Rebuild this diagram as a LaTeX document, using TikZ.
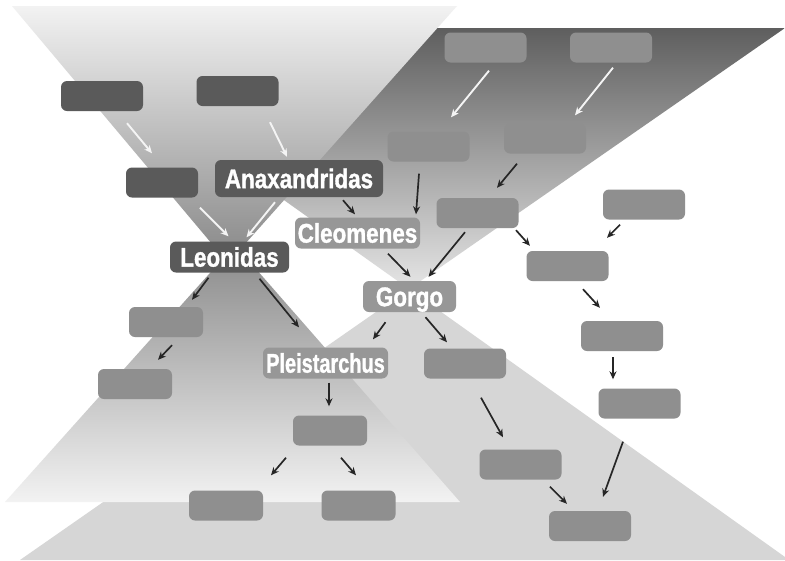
\documentclass[tikz,border=0pt]{standalone}
\usepackage{fontspec}
\newfontfamily\namefont[FakeStretch=0.83,BoldFeatures={FakeBold=1.2}]{Liberation Sans}
\usepackage{tikz}
\usetikzlibrary{arrows.meta}
\definecolor{boxdark}{HTML}{5A5A5A}
\definecolor{boxmid}{HTML}{8F8F8F}
\definecolor{namemid}{HTML}{979797}
\definecolor{arrwhite}{HTML}{F4F4F4}
\begin{document}
\begin{tikzpicture}[x=1pt,y=-1pt,
  blk/.style={rounded corners=6pt,minimum width=82pt,minimum height=30pt,inner sep=0pt},
  dbox/.style={blk,fill=boxdark},
  mbox/.style={blk,fill=boxmid},
  person/.style={rounded corners=6pt,inner sep=0pt,minimum height=31pt,text=white,
    font=\namefont\bfseries\fontsize{27}{29}\selectfont,text height=19.3pt,text depth=0pt},
  arr/.style={-{Stealth[length=8pt,width=7pt]},line width=1.7pt,draw=black!85},
  warr/.style={arr,draw=arrwhite,line width=1.9pt}]
\useasboundingbox (0,0) rectangle (785,560);
\fill[white] (0,0) rectangle (785,560);
% background: two crossing bowties
\shade[top color=black!63,bottom color=black!10] (42,28) -- (785,28) -- (409,289) -- cycle;
\fill[black!16] (409,289) -- (785,557) -- (785,560) -- (20,560) -- cycle;
\shade[top color=black!5,bottom color=black!47] (12,6) -- (457,6) -- (228,263) -- cycle;
\shade[top color=black!46,bottom color=black!5] (235,245) -- (460,502) -- (5,502) -- cycle;
% names
\node[person,fill=boxdark,minimum width=168pt,minimum height=37pt] (anax) at (299,178.5) {Anaxandridas};
\node[person,fill=boxdark,minimum width=119pt] (leon) at (229.5,257) {Leonidas};
\node[person,fill=namemid,minimum width=125pt] (cleo) at (357.5,233) {Cleomenes};
\node[person,fill=namemid,minimum width=93pt] (gorgo) at (409.5,296.5) {Gorgo};
\node[person,fill=namemid,minimum width=125pt] (pleist) at (325.5,363) {\scalebox{0.89}[1]{Pleistarchus}};
% empty boxes
\node[dbox] (d1) at (102,96) {};
\node[dbox] (d2) at (237.5,91) {};
\node[dbox,minimum width=72pt] (d3) at (162,182.5) {};
\node[mbox] (m1) at (485.5,47.5) {};
\node[mbox] (m2) at (611,47.5) {};
\node[mbox] (m3) at (428.5,146.5) {};
\node[mbox] (m4) at (545,138.5) {};
\node[mbox] (m5) at (477.5,213) {};
\node[mbox] (m6) at (644,204.5) {};
\node[mbox] (m7) at (567.5,266) {};
\node[mbox,minimum width=74pt] (l1) at (166,322) {};
\node[mbox,minimum width=74pt] (l2) at (135,384) {};
\node[mbox,minimum width=74pt] (p1) at (330,430.5) {};
\node[mbox,minimum width=74pt] (p2) at (226,505.5) {};
\node[mbox,minimum width=74pt] (p3) at (358.5,505.5) {};
\node[mbox] (g1) at (465,363.5) {};
\node[mbox] (g2) at (520.5,464.5) {};
\node[mbox] (r1) at (622,336) {};
\node[mbox] (r2) at (639.5,403.5) {};
\node[mbox] (bot) at (590,526) {};
% white arrows
\draw[warr] ([xshift=25pt,yshift=-12pt]d1.south) -- ([xshift=-10pt,yshift=14pt]d3.north);
\draw[warr] ([xshift=32.5pt,yshift=-16pt]d2.south) -- ([xshift=-12pt,yshift=3pt]anax.north);
\draw[warr] ([xshift=38pt,yshift=-10pt]d3.south) -- ([xshift=-1pt,yshift=5pt]leon.north);
\draw[warr] ([xshift=-24pt,yshift=-5pt]anax.south) -- ([xshift=17pt,yshift=4pt]leon.north);
\draw[warr] ([xshift=3.5pt,yshift=-8pt]m1.south) -- ([xshift=22.5pt,yshift=14pt]m3.north);
\draw[warr] ([xshift=2pt,yshift=-5pt]m2.south) -- ([xshift=30pt,yshift=8pt]m4.north);
% black arrows
\draw[arr] ([xshift=44pt,yshift=-3pt]anax.south) -- ([xshift=-2.5pt,yshift=3pt]cleo.north);
\draw[arr] ([xshift=-9.5pt,yshift=-12pt]m3.south) -- ([xshift=58.5pt,yshift=3pt]cleo.north);
\draw[arr] ([xshift=30.5pt,yshift=-5pt]cleo.south) -- ([xshift=1pt,yshift=4pt]gorgo.north);
\draw[arr] ([xshift=-12.5pt,yshift=-4pt]m5.south) -- ([xshift=19pt,yshift=4pt]gorgo.north);
\draw[arr] ([xshift=-28pt,yshift=-10pt]m4.south) -- ([xshift=19.5pt,yshift=10pt]m5.north);
\draw[arr] ([xshift=38.5pt,yshift=-2pt]m5.south) -- ([xshift=-37.5pt,yshift=5pt]m7.north);
\draw[arr] ([xshift=-24pt,yshift=-5pt]m6.south) -- ([xshift=39.5pt,yshift=13pt]m7.north);
\draw[arr] ([xshift=-21pt,yshift=-5pt]leon.south) -- ([xshift=26pt,yshift=7pt]l1.north);
\draw[arr] ([xshift=30pt,yshift=-6pt]leon.south) -- ([xshift=-26.5pt,yshift=20pt]pleist.north);
\draw[arr] ([xshift=6pt,yshift=-8pt]l1.south) -- ([xshift=23pt,yshift=9pt]l2.north);
\draw[arr] ([xshift=-24pt,yshift=-10pt]gorgo.south) -- ([xshift=47.5pt,yshift=8pt]pleist.north);
\draw[arr] ([xshift=16pt,yshift=-5pt]gorgo.south) -- ([xshift=-18pt,yshift=6pt]g1.north);
\draw[arr] ([xshift=3.5pt,yshift=-4pt]pleist.south) -- ([xshift=-1pt,yshift=9pt]p1.north);
\draw[arr] ([xshift=-44pt,yshift=-12pt]p1.south) -- ([xshift=45pt,yshift=15pt]p2.north);
\draw[arr] ([xshift=11pt,yshift=-12pt]p1.south) -- ([xshift=-2.5pt,yshift=15pt]p3.north);
\draw[arr] ([xshift=15.5pt,yshift=-8pt]m7.south) -- ([xshift=-22pt,yshift=13pt]r1.north);
\draw[arr] ([xshift=-9pt,yshift=-6pt]r1.south) -- ([xshift=-26.5pt,yshift=9pt]r2.north);
\draw[arr] ([xshift=16pt,yshift=-19pt]g1.south) -- ([xshift=-17.5pt,yshift=12pt]g2.north);
\draw[arr] ([xshift=29.5pt,yshift=-7pt]g2.south) -- ([xshift=-23pt,yshift=7pt]bot.north);
\draw[arr] ([xshift=-16.5pt,yshift=-23pt]r2.south) -- ([xshift=13pt,yshift=14pt]bot.north);
\end{tikzpicture}
\end{document}
